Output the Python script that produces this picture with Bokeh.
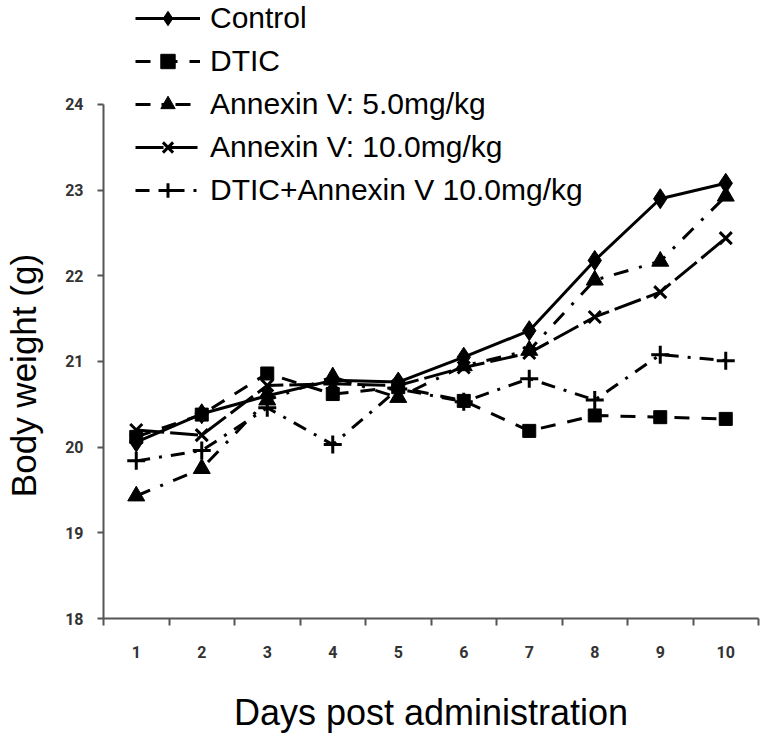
import numpy as np
from bokeh.plotting import figure
from bokeh.layouts import row
from bokeh.models import Range1d, FixedTicker, Legend, LegendItem, Label
from bokeh.embed import file_html
from bokeh.resources import INLINE

days = [1, 2, 3, 4, 5, 6, 7, 8, 9, 10]
day_labels = {d: str(d) for d in days}
y_ticks = [18, 19, 20, 21, 22, 23, 24]

control = [20.06, 20.39, 20.60, 20.78, 20.76, 21.05, 21.36, 22.18, 22.90, 23.08]
dtic = [20.12, 20.38, 20.86, 20.62, 20.70, 20.54, 20.19, 20.37, 20.35, 20.33]
annexin5 = [19.43, 19.75, 20.55, 20.82, 20.58, 20.95, 21.13, 21.95, 22.17, 22.93]
annexin10 = [20.20, 20.14, 20.72, 20.74, 20.72, 20.93, 21.10, 21.52, 21.81, 22.44]
dtic_annexin = [19.84, 19.96, 20.46, 20.03, 20.68, 20.53, 20.80, 20.55, 21.08, 21.01]

series = [
    ("Control", control, "solid", "diamond", 20),
    ("DTIC", dtic, "15 12", "square", 13),
    ("Annexin V: 5.0mg/kg", annexin5, "15 11 3 11", "triangle", 17),
    ("Annexin V: 10.0mg/kg", annexin10, "28 6", "x", 17),
    ("DTIC+Annexin V 10.0mg/kg", dtic_annexin, "14 9 3 9", "cross", 18),
]

H = 735
LW = 50
yr = Range1d(18, 25.214)

# narrow figure carrying the y-axis title (frames are aligned within the row)
lab = figure(width=LW, height=H, output_backend="svg", toolbar_location=None,
             title=None, x_range=Range1d(0, LW), y_range=yr,
             x_axis_location=None, y_axis_location=None, min_border=0)
lab.outline_line_color = None
lab.grid.visible = False
lab.add_layout(Label(text="Body weight (g)", x=23, y=20.836, x_units="data",
                     angle=np.pi / 2,
                     text_align="center", text_baseline="middle",
                     text_font="Liberation Sans", text_font_size="35px",
                     text_color="black"))

p = figure(width=760 - LW, height=H, output_backend="svg", toolbar_location=None,
           title=None,
           x_range=Range1d(0.5, 10.5), y_range=yr,
           min_border_left=103 - LW, min_border_right=2, min_border_top=0,
           min_border_bottom=H - 618)
p.outline_line_color = None
p.grid.visible = False

axis_col = "#555555"
tick_font = "Roboto"

xa = p.xaxis[0]
xa.ticker = FixedTicker(ticks=days, minor_ticks=[d - 0.5 for d in days] + [10.5])
xa.major_label_overrides = day_labels
xa.major_tick_line_color = None
xa.major_tick_out = 7
xa.major_tick_in = 0
xa.minor_tick_out = 7
xa.minor_tick_in = 0
xa.minor_tick_line_color = axis_col
xa.minor_tick_line_width = 2
xa.axis_line_color = axis_col
xa.axis_line_width = 2
xa.major_label_text_font = tick_font
xa.major_label_text_font_style = "bold"
xa.major_label_text_font_size = "16px"
xa.major_label_text_color = "#333333"
xa.major_label_standoff = 20
xa.axis_label = "Days post administration"
xa.axis_label_text_font = "Liberation Sans"
xa.axis_label_text_font_style = "normal"
xa.axis_label_text_font_size = "36px"
xa.axis_label_text_color = "black"
xa.axis_label_standoff = 31

ya = p.yaxis[0]
ya.ticker = FixedTicker(ticks=y_ticks, minor_ticks=[])
ya.bounds = (18, 24)
ya.major_tick_out = 6
ya.major_tick_in = 0
ya.major_tick_line_color = axis_col
ya.major_tick_line_width = 2
ya.minor_tick_line_color = None
ya.axis_line_color = axis_col
ya.axis_line_width = 2
ya.major_label_text_font = tick_font
ya.major_label_text_font_style = "bold"
ya.major_label_text_font_size = "16px"
ya.major_label_text_color = "#333333"
ya.major_label_standoff = 14

items = []
for name, vals, dash, marker, size in series:
    ln = p.line(days, vals, line_color="black", line_width=3, line_dash=dash)
    if marker in ("x", "cross"):
        sc = p.scatter(days, vals, marker=marker, size=size, line_color="black",
                       line_width=3, fill_color=None)
    else:
        sc = p.scatter(days, vals, marker=marker, size=size,
                       line_color="black", fill_color="black", line_width=1)
    items.append(LegendItem(label=name, renderers=[ln, sc]))

legend = Legend(items=items, location=(32, 618 - 208), orientation="vertical",
                glyph_width=65, glyph_height=36, label_standoff=10, spacing=7,
                padding=0, margin=0, border_line_color=None,
                background_fill_alpha=0,
                label_text_font="Liberation Sans", label_text_font_size="30px",
                label_text_color="black")
p.add_layout(legend)

layout = row(lab, p, spacing=0)
open("out.html", "w").write(file_html(layout, INLINE))
